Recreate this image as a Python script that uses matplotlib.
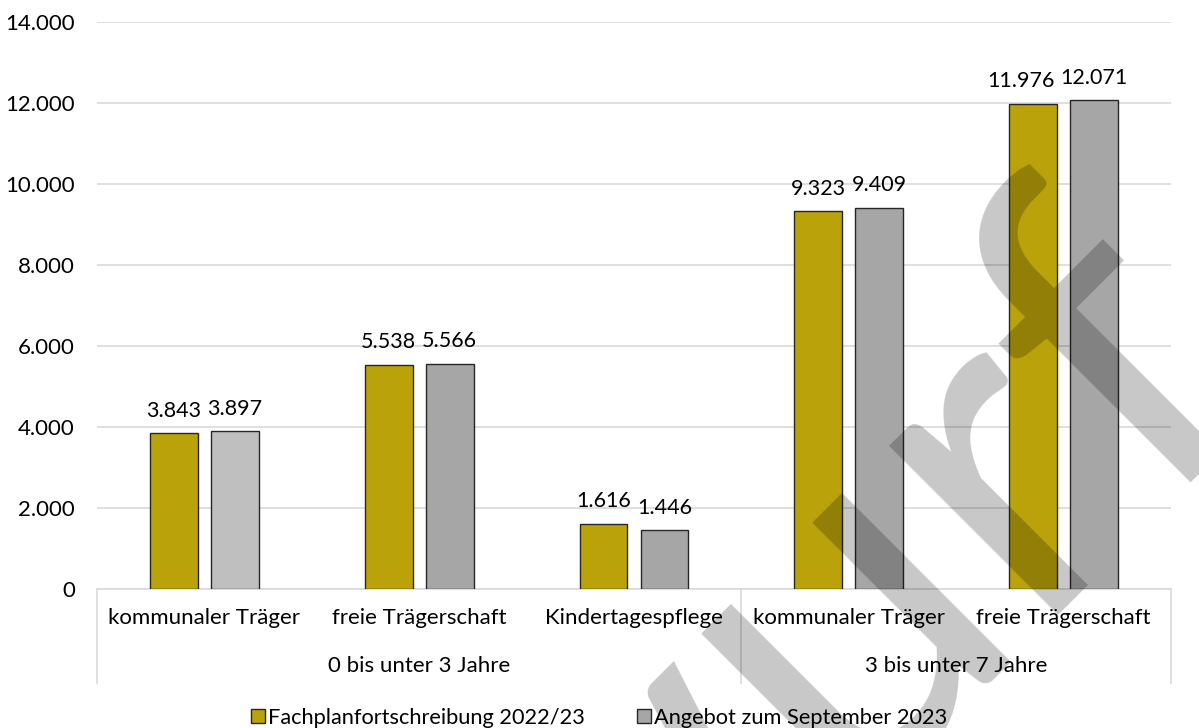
import matplotlib.pyplot as plt
import matplotlib.transforms as mtransforms
from matplotlib.patches import Patch
import numpy as np

plt.rcParams.update({
    "font.family": ["Lato", "DejaVu Sans"],
    "font.size": 16,
    "text.color": "#000000",
})

categories = ["kommunaler Träger", "freie Trägerschaft", "Kindertagespflege",
              "kommunaler Träger", "freie Trägerschaft"]
age_groups = ["0 bis unter 3 Jahre", "3 bis unter 7 Jahre"]
group_spans = [(0, 2), (3, 4)]
series_names = ["Fachplanfortschreibung 2022/23", "Angebot zum September 2023"]
plan_values = [3843, 5538, 1616, 9323, 11976]
offer_values = [3897, 5566, 1446, 9409, 12071]

GOLD = "#BAA30A"
GREY = "#A6A6A6"
LIGHT_GREY = "#BFBFBF"
GRID = "#D9D9D9"
EDGE = "#262626"


def de_fmt(v):
    return f"{int(v):,}".replace(",", ".")


fig = plt.figure(figsize=(11.99, 7.28), dpi=100)
ax = fig.add_axes([97 / 1199, 1 - 589 / 728, (1171 - 97) / 1199, (589 - 22) / 728])

x = np.arange(len(categories))
width = 0.223
offset = 0.142
offer_colors = [LIGHT_GREY] + [GREY] * (len(categories) - 1)

b1 = ax.bar(x - offset, plan_values, width, color=GOLD, edgecolor=EDGE, linewidth=1.0, zorder=3)
b2 = ax.bar(x + offset, offer_values, width, color=offer_colors, edgecolor=EDGE, linewidth=1.0, zorder=3)

# value labels; the last gold label is nudged left so it clears its neighbour
nudge = {(0, 4): -9}
for s, (bars, vals) in enumerate(((b1, plan_values), (b2, offer_values))):
    for i, (bar, v) in enumerate(zip(bars, vals)):
        ax.annotate(de_fmt(v), (bar.get_x() + bar.get_width() / 2, v),
                    xytext=(nudge.get((s, i), 0), 9), textcoords="offset points",
                    ha="center", va="bottom", fontsize=15.5)

ax.set_xlim(-0.5, len(categories) - 0.5)
ax.set_ylim(0, 14000)
ax.set_yticks(range(0, 14001, 2000))
ax.set_yticklabels([de_fmt(v) for v in range(0, 14001, 2000)])
ax.yaxis.grid(True, color=GRID, linewidth=1.2, zorder=0)
ax.set_axisbelow(True)
for side in ("top", "right", "left"):
    ax.spines[side].set_visible(False)
ax.spines["bottom"].set_color(GRID)
ax.spines["bottom"].set_linewidth(1.2)
ax.tick_params(axis="y", length=0, pad=16, labelsize=16)
ax.tick_params(axis="x", length=0, pad=14, labelsize=16)
ax.set_xticks(x)
ax.set_xticklabels(categories)

# second category level with separators
trans = mtransforms.blended_transform_factory(ax.transData, ax.transAxes)
for sep in (-0.5, 2.5, 4.5):
    ax.plot([sep, sep], [0, -0.165], transform=trans, color=GRID,
            linewidth=1.2, clip_on=False)
for label, (a, b) in zip(age_groups, group_spans):
    ax.text((a + b) / 2, -0.136, label, transform=trans, ha="center",
            va="center", fontsize=16)

handles = [Patch(facecolor=GOLD, edgecolor=EDGE, linewidth=1.0),
           Patch(facecolor=GREY, edgecolor=EDGE, linewidth=1.0)]
fig.legend(handles, series_names, loc="center", bbox_to_anchor=(0.5, 1 - 718 / 728),
           ncol=2, frameon=False, fontsize=15.7, handlelength=0.63, handleheight=0.63,
           handletextpad=0.15, columnspacing=2.4, borderpad=0, borderaxespad=0)

# draft watermark
fig.text(1262 / 1199, 1 - 368 / 728, "Entwurf", rotation=45, rotation_mode="anchor",
         ha="right", va="baseline", fontsize=340, color="black", alpha=0.22, zorder=10)

fig.savefig("out.png", dpi=100)
